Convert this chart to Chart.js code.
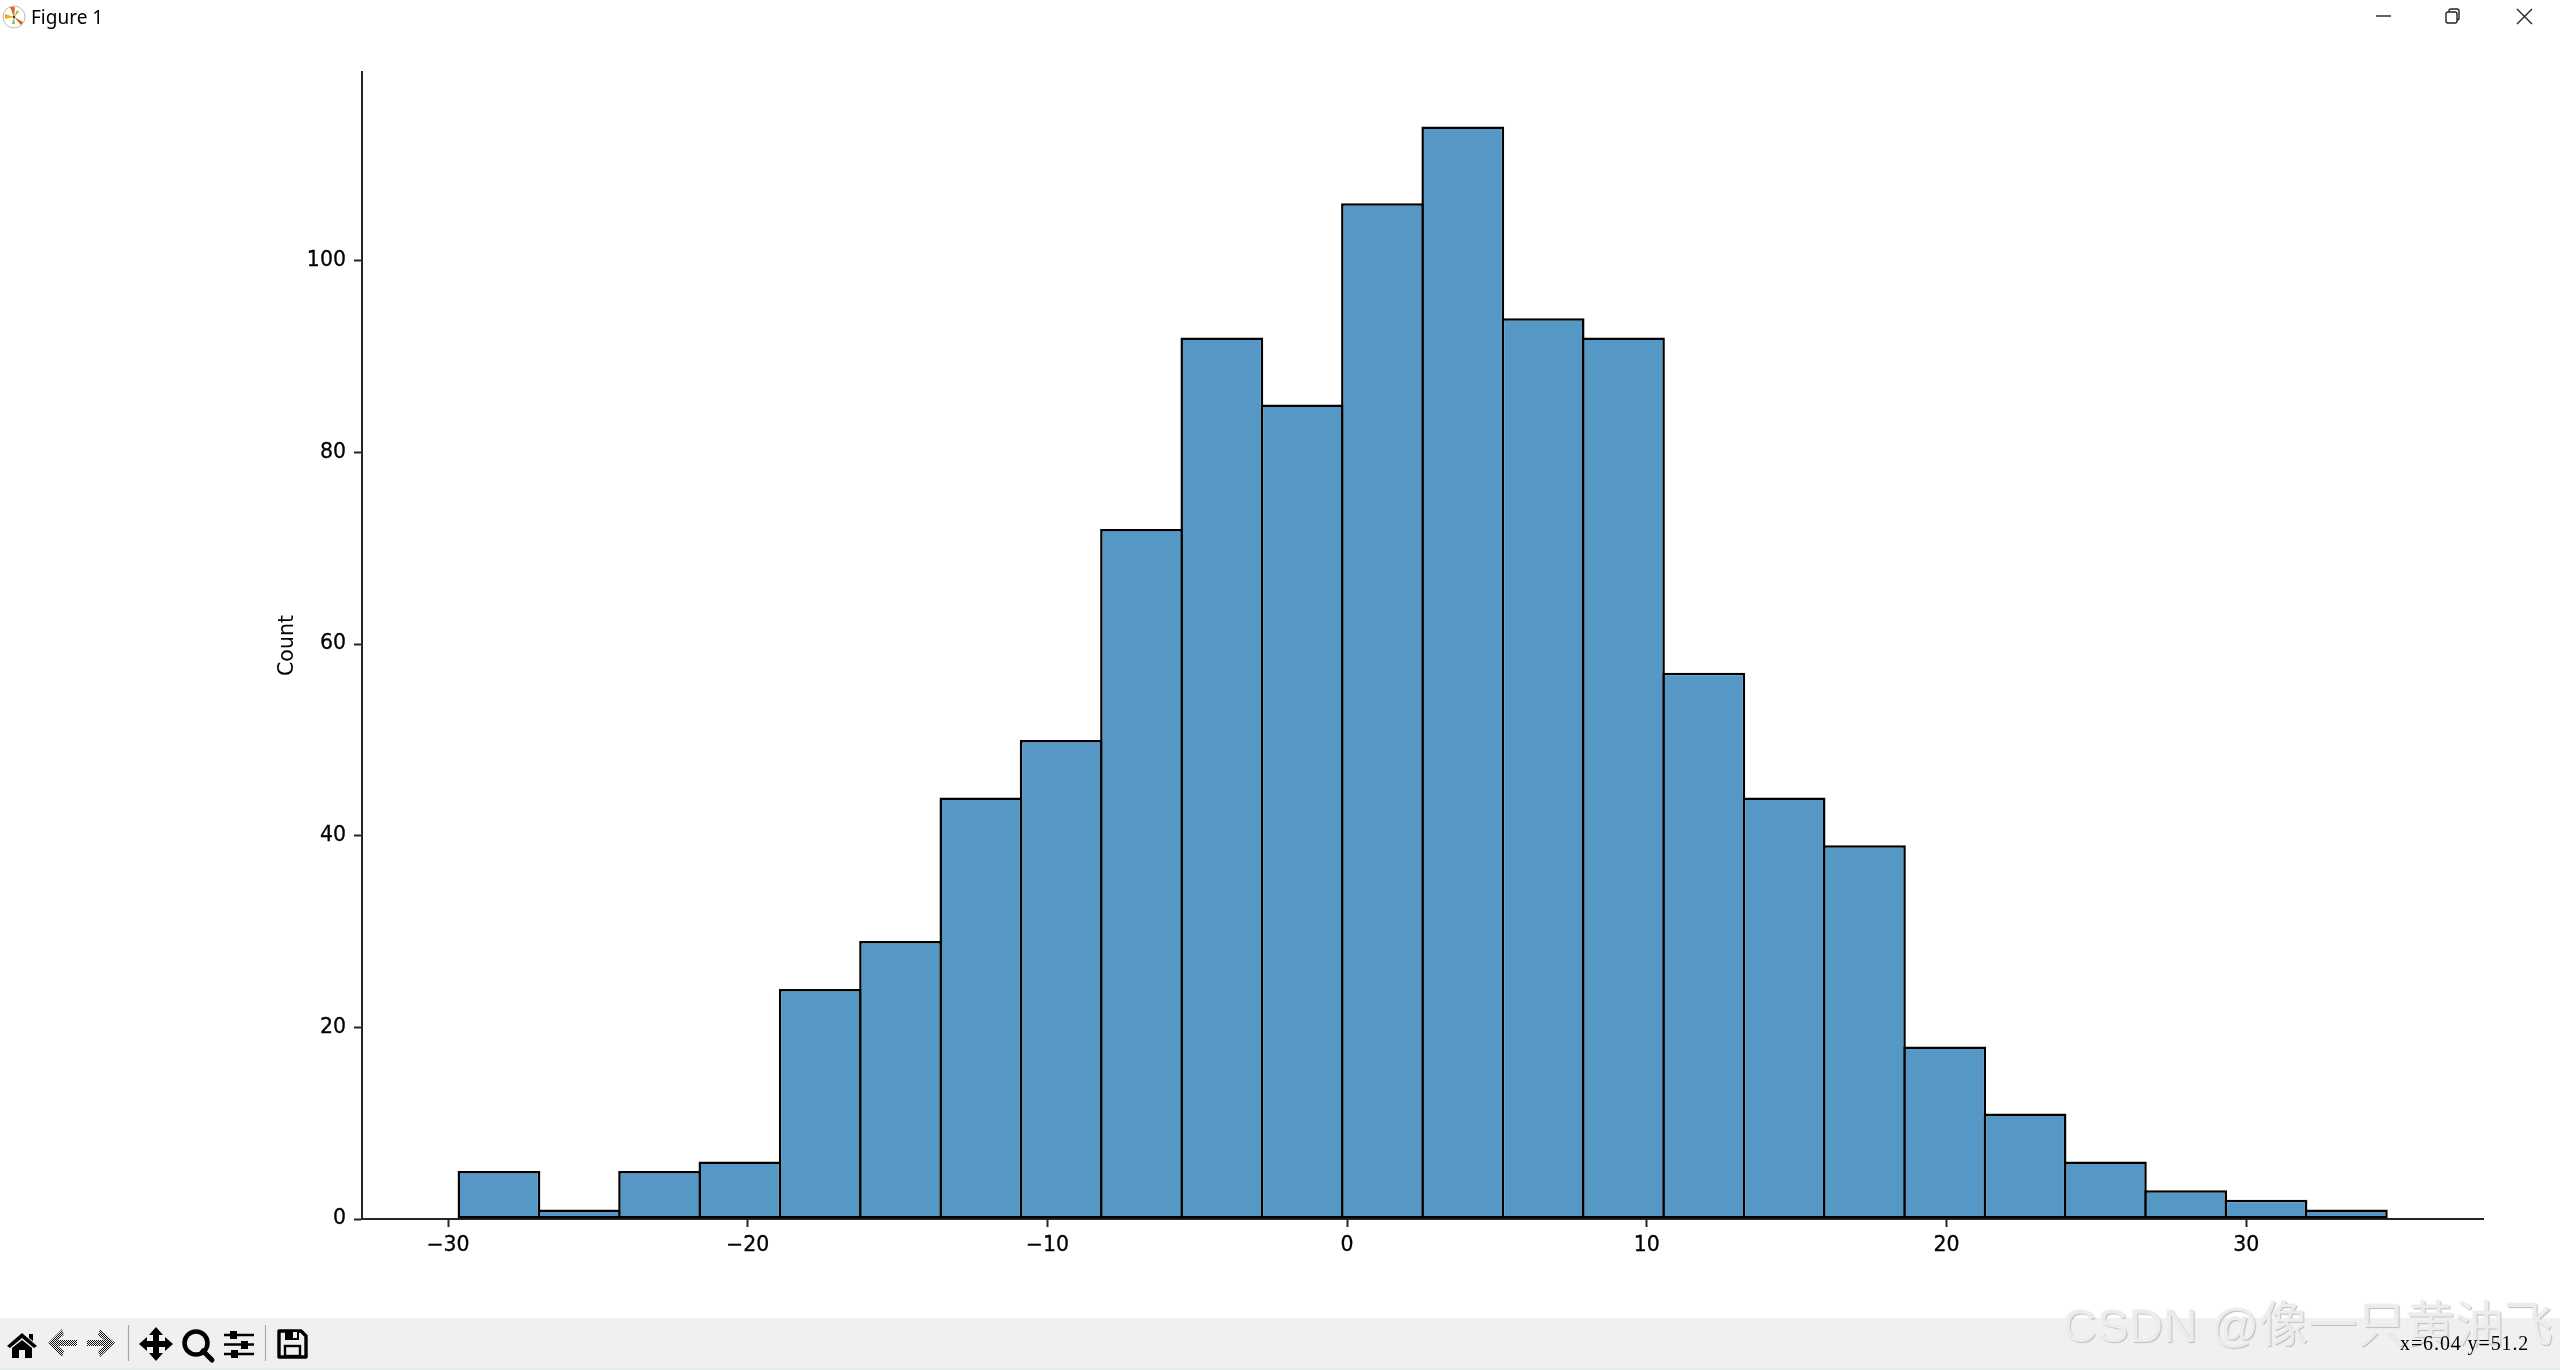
<!DOCTYPE html>
<html>
<head>
<meta charset="utf-8">
<title>Figure 1</title>
<script src="https://cdn.jsdelivr.net/npm/chart.js@4/dist/chart.umd.min.js"></script>
<style>
  html, body { margin: 0; padding: 0; background: #fff; width: 2560px; height: 1370px; overflow: hidden; }
  #wrap { position: relative; width: 2560px; height: 1370px; }
  #histChart { position: absolute; left: 0; top: 0; }
  .abs { position: absolute; }
  #title { left: 31px; top: 4px; font: 19px/26px "Noto Sans", sans-serif; color: #000; }
  #toolbar { left: 0; top: 1318px; width: 2560px; height: 50px; background: #f0f0f0; }
  #strip { left: 0; top: 1368px; width: 2560px; height: 2px; background: #e3ecec; }
  #status { left: 2400px; top: 1331px; font: 20px/24px "Liberation Serif", serif; letter-spacing: 0.9px; color: #000; white-space: pre; }
  #mark { left: 2063px; top: 1285px; line-height: 76px; color: #ececec; white-space: pre;
          text-shadow: 1px 1px 1px #bdbdbd, -1px -1px 0 #f4f4f4; }
  #mark .la { font: 47px "Liberation Sans", sans-serif; letter-spacing: 0.4px; }
  #mark .cj { font: 49px "Noto Sans CJK SC", sans-serif; }
</style>
</head>
<body>
<div id="wrap">
  <canvas id="histChart" width="2560" height="1370"></canvas>

  <!-- window title bar -->
  <svg class="abs" style="left:2px;top:5px" width="24" height="24" viewBox="0 0 24 24">
    <circle cx="12" cy="12" r="11" fill="#fff" stroke="#aaa" stroke-width="0.8"/>
    <path d="M12 12L8 2L13 2Z" fill="#e8641c"/>
    <path d="M12 12L3 9L3 14Z" fill="#f5ad12"/>
    <path d="M12 12L19 20L21 17Z" fill="#d4621e"/>
    <path d="M12 12L15 5L17 7Z" fill="#8cc63f"/>
    <path d="M12 12L10 19L13 19Z" fill="#7fbf5a"/>
    <circle cx="12" cy="12" r="1.2" fill="#333"/>
  </svg>
  <div id="title" class="abs">Figure 1</div>
  <svg class="abs" style="left:2370px;top:5px" width="170" height="26" viewBox="0 0 170 26" fill="none" stroke="#222" stroke-width="1.4">
    <path d="M6 11H21"/>
    <rect x="76" y="7" width="11" height="11" rx="2"/>
    <path d="M79 7V6a2 2 0 0 1 2-2h6a2 2 0 0 1 2 2v7a2 2 0 0 1-2 2"/>
    <path d="M147 4L162 19M162 4L147 19"/>
  </svg>

  <!-- matplotlib toolbar -->
  <div id="toolbar" class="abs"></div>
  <div id="strip" class="abs"></div>
  <svg class="abs" style="left:0;top:1318px" width="320" height="50" viewBox="0 0 320 50">
    <defs>
      <pattern id="dither" width="2" height="2" patternUnits="userSpaceOnUse">
        <rect width="1" height="1" fill="#111"/><rect x="1" y="1" width="1" height="1" fill="#111"/>
      </pattern>
    </defs>
    <path d="M7 28L22 15L37 28L34 30L22 20L10 30Z M12 30L22 22L32 30V40H25V32H19V40H12Z M29 16H33V23L29 20Z" fill="#000"/>
    <path d="M62 11L48 25L62 39L64 33L58 28H77V22H58L64 17Z" fill="url(#dither)"/>
    <path d="M100 11L115 25L100 39L98 33L104 28H87V22H104L98 17Z" fill="url(#dither)"/>
    <path d="M128.5 7V43" stroke="#aaa" stroke-width="1.2"/>
    <path d="M156 9L163 17H159V23H165V19L173 26L165 33V29H159V35H163L156 43L149 35H153V29H147V33L139 26L147 19V23H153V17H149Z" fill="#000"/>
    <circle cx="196" cy="25" r="11.5" fill="none" stroke="#000" stroke-width="4.5"/>
    <path d="M203 33L212 42" stroke="#000" stroke-width="5" stroke-linecap="round"/>
    <g stroke="#000" stroke-width="2.4">
      <path d="M224 17H254M224 26.5H254M224 36H254"/>
    </g>
    <rect x="230" y="13" width="7" height="8" fill="#000"/>
    <rect x="241" y="23" width="7" height="8" fill="#000"/>
    <rect x="231" y="32" width="7" height="8" fill="#000"/>
    <path d="M265.5 7V43" stroke="#aaa" stroke-width="1.2"/>
    <path d="M279 13H301L306 18V39H279Z" fill="none" stroke="#000" stroke-width="3.4" stroke-linejoin="round"/>
    <rect x="285" y="12" width="14" height="10" fill="#000"/>
    <rect x="293" y="14" width="4" height="6" fill="#f0f0f0"/>
    <rect x="285" y="28" width="15" height="10" fill="none" stroke="#000" stroke-width="2.4"/>
  </svg>
  <div id="mark" class="abs"><span class="la">CSDN @</span><span class="cj">像一只黄油飞</span></div>
  <div id="status" class="abs">x=6.04 y=51.2</div>
</div>

<script>
// histogram values
const binCenters = [-28.30, -25.62, -22.94, -20.26, -17.58, -14.90, -12.22, -9.54, -6.86, -4.18, -1.50, 1.18,
                    3.86, 6.54, 9.22, 11.90, 14.58, 17.26, 19.94, 22.62, 25.30, 27.98, 30.66, 33.34];
const counts = [5, 1, 5, 6, 24, 29, 44, 50, 72, 92, 85, 106,
                114, 94, 92, 57, 44, 39, 18, 11, 6, 3, 2, 1];
const xTicks = [-30, -20, -10, 0, 10, 20, 30];
const yTicks = [0, 20, 40, 60, 80, 100];
const yLabel = 'Count';

const axisColor = '#262626';
const tickFont = { family: '"DejaVu Sans"', size: 20.5 };

Chart.defaults.color = '#000';

document.addEventListener('DOMContentLoaded', function() {
  const histChart = new Chart(document.getElementById('histChart'), {
    type: 'bar',
    data: {
      datasets: [{
        label: yLabel,
        data: binCenters.map(function(c, i) { return { x: c, y: counts[i] }; }),
        backgroundColor: '#5598c6',
        borderColor: '#000',
        borderWidth: 2.5,
        borderSkipped: false,
        inflateAmount: 0,
        barThickness: 82.8
      }]
    },
    options: {
      responsive: false,
      animation: false,
      devicePixelRatio: 1,
      layout: { padding: { top: 72, right: 77, left: 0, bottom: 0 } },
      plugins: { legend: { display: false }, tooltip: { enabled: false } },
      scales: {
        x: {
          type: 'linear',
          offset: false,
          min: -32.87,
          max: 37.9,
          afterFit: function(scale) { scale.height = 151; },
          afterBuildTicks: function(scale) { scale.ticks = xTicks.map(function(v) { return { value: v }; }); },
          border: { display: true, color: axisColor, width: 2 },
          grid: { offset: false, drawOnChartArea: false, drawTicks: true, tickLength: 8, tickWidth: 2, tickColor: axisColor },
          ticks: {
            font: tickFont,
            color: '#000',
            textStrokeColor: '#000',
            textStrokeWidth: 0.3,
            padding: 6,
            maxRotation: 0,
            autoSkip: false,
            callback: function(v) { return String(v).replace('-', '\u2212'); }
          }
        },
        y: {
          min: 0,
          max: 119.7,
          afterFit: function(scale) { scale.width = 362; },
          afterBuildTicks: function(scale) { scale.ticks = yTicks.map(function(v) { return { value: v }; }); },
          border: { display: true, color: axisColor, width: 2 },
          grid: { drawOnChartArea: false, drawTicks: true, tickLength: 8, tickWidth: 2, tickColor: axisColor },
          title: { display: true, text: yLabel, font: tickFont, color: '#000', padding: { top: 275, bottom: 0 } },
          ticks: { font: tickFont, color: '#000', textStrokeColor: '#000', textStrokeWidth: 0.3, padding: 8, autoSkip: false }
        }
      }
    }
  });
});
</script>
</body>
</html>
